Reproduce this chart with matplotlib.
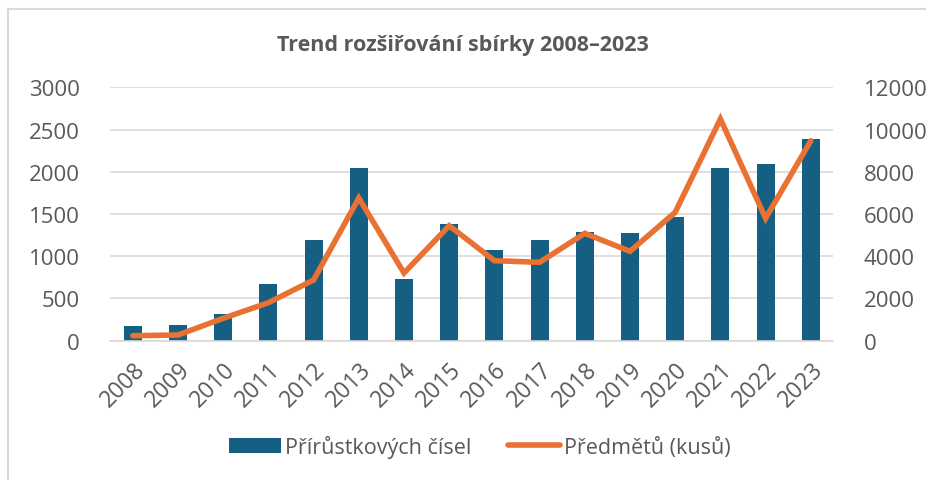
import matplotlib.pyplot as plt
from matplotlib.lines import Line2D
import numpy as np

plt.rcParams['font.family'] = ['Open Sans', 'DejaVu Sans']

# data
roky = [str(r) for r in range(2008, 2024)]
prirustkova_cisla = [170, 186, 316, 671, 1188, 2044, 730, 1378, 1077, 1188, 1283, 1279, 1461, 2048, 2088, 2384]
predmety = [237, 270, 1060, 1800, 2875, 6757, 3206, 5446, 3790, 3712, 5085, 4233, 6080, 10500, 5796, 9470]

modra = '#156082'
oranzova = '#E97132'
seda = '#595959'

fig = plt.figure(figsize=(9.26, 4.81), dpi=100)
ax = fig.add_axes([0.119, 0.2896, 0.781, 0.5268])
ax2 = ax.twinx()

x = np.arange(len(roky))
bars = ax.bar(x, prirustkova_cisla, width=0.4, color=modra, label='Přírůstkových čísel', zorder=2)
line, = ax2.plot(x, predmety, color=oranzova, lw=4, solid_capstyle='round', solid_joinstyle='miter',
                 label='Předmětů (kusů)', zorder=3)

ax.set_xlim(-0.5, len(roky) - 0.5)
ax.set_ylim(0, 3000)
ax.set_yticks(range(0, 3001, 500))
ax2.set_ylim(0, 12000)
ax2.set_yticks(range(0, 12001, 2000))

ax.yaxis.grid(True, color='#D9D9D9', lw=1.2, zorder=0)
ax.set_axisbelow(True)
for a in (ax, ax2):
    for s in a.spines.values():
        s.set_visible(False)
    a.tick_params(length=0, labelsize=16, labelcolor=seda)
ax.spines['bottom'].set_visible(True)
ax.spines['bottom'].set_color('#D9D9D9')
ax.spines['bottom'].set_linewidth(1.2)

ax.set_xticks(x)
ax.set_xticklabels(roky, rotation=45, ha='right', rotation_mode='anchor')
ax.tick_params(axis='x', pad=12, labelsize=16.5)
ax.tick_params(axis='y', pad=22)
ax2.tick_params(axis='y', pad=22)

ax2.set_zorder(ax.get_zorder() + 1)
ax2.patch.set_visible(False)

fig.text(0.5, 0.905, 'Trend rozšiřování sbírky 2008–2023', ha='center', va='center',
         fontsize=15.5, fontweight='bold', color=seda)

fig.legend(handles=[bars, line], loc='center', bbox_to_anchor=(0.518, 0.07), ncol=2,
           frameon=False, fontsize=15.5, labelcolor=seda, handlelength=2.4, handletextpad=0.2,
           columnspacing=1.7)

# ramecek grafu
fig.add_artist(Line2D([0.009, 0.009], [0, 0.979], color='#D9D9D9', lw=1.5))
fig.add_artist(Line2D([0.009, 1], [0.979, 0.979], color='#D9D9D9', lw=1.5))

fig.savefig('out.png', dpi=100)
